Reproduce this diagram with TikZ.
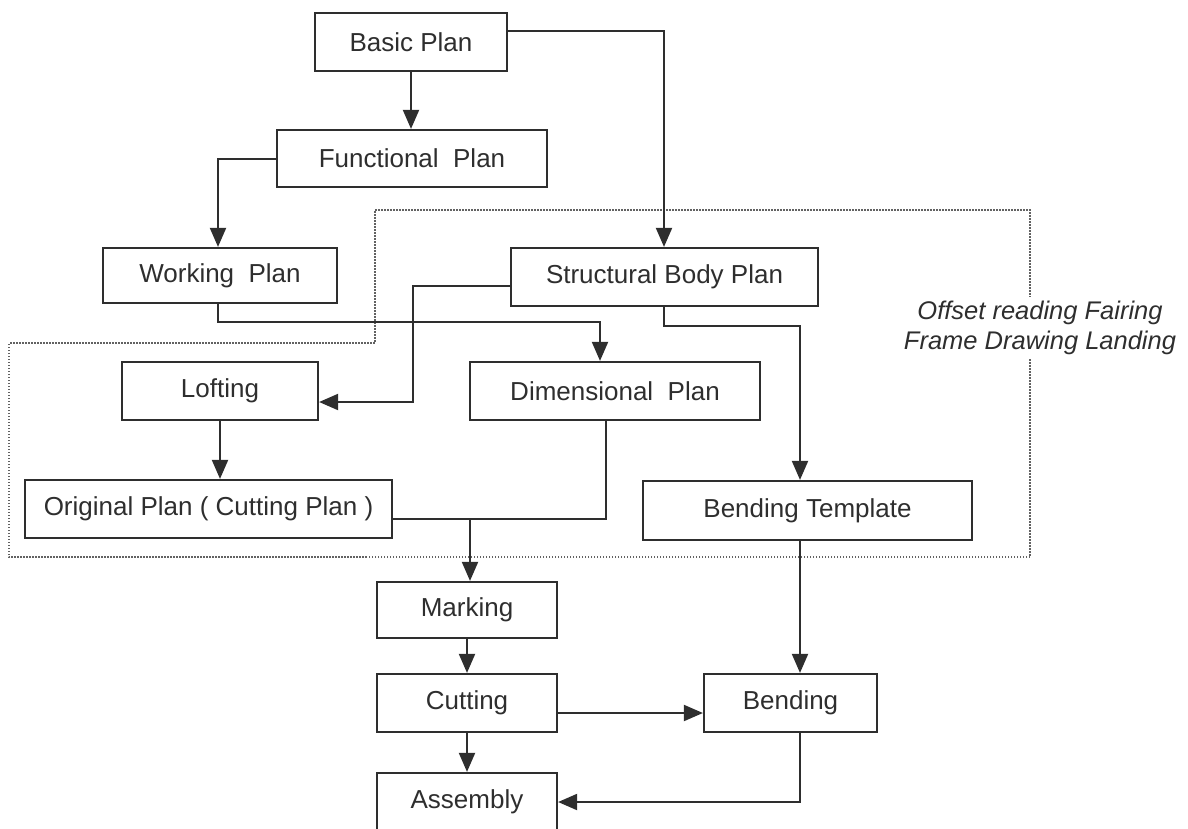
\documentclass[tikz,border=0pt]{standalone}
\usepackage{fontspec}
\setmainfont{Liberation Sans}
\usetikzlibrary{arrows.meta}
\definecolor{ink}{HTML}{2E2E2E}
\begin{document}
\begin{tikzpicture}[x=1pt,y=-1pt,
  box/.style={draw=ink, line width=2.2pt, rectangle, inner sep=0pt, text=ink,
    font=\fontsize{26}{31}\selectfont},
  conn/.style={draw=ink, line width=2pt},
  arr/.style={conn, -{Triangle[length=19pt,width=16pt]}},
  region/.style={draw=ink!75, line width=2pt, dash pattern=on 1.5pt off 1.5pt}]
\useasboundingbox (0,0) rectangle (1188,828);
% dotted region
\draw[region] (375,210) -- (1030,210) -- (1030,557) -- (9,557) -- (9,343) -- (375,343) -- cycle;
\node[fill=white, text=ink, align=center, font=\itshape\fontsize{25.5}{30}\selectfont, inner sep=4pt]
  (note) at (1040,328) {Offset reading Fairing\\Frame Drawing Landing};
% boxes
\node[box, minimum width=192pt, minimum height=58pt] (basic) at (411,42) {Basic Plan};
\node[box, minimum width=270pt, minimum height=57pt] (func) at (412,158.5) {Functional\ \ Plan};
\node[box, minimum width=234pt, minimum height=55pt] (work) at (220,275.5) {Working\ \ Plan};
\node[box, minimum width=307pt, minimum height=58pt] (struct) at (664.5,277) {Structural Body Plan};
\node[box, minimum width=196pt, minimum height=58pt] (loft) at (220,391) {Lofting};
\node[box, minimum width=290pt, minimum height=58pt] (dim) at (615,391) {Dimensional\ \ Plan};
\node[box, minimum width=367pt, minimum height=58pt] (orig) at (208.5,509) {Original Plan ( Cutting Plan )};
\node[box, minimum width=329pt, minimum height=59pt] (bt) at (807.5,510.5) {Bending Template};
\node[box, minimum width=180pt, minimum height=56pt] (mark) at (467,610) {Marking};
\node[box, minimum width=180pt, minimum height=58pt] (cut) at (467,703) {Cutting};
\node[box, minimum width=173pt, minimum height=58pt] (bend) at (790.5,703) {Bending};
\node[box, minimum width=180pt, minimum height=58pt] (asm) at (467,802) {Assembly};
% connectors
\draw[arr] (basic.south) -- (basic.south|-func.north);
\coordinate (b1) at (664,31);
\draw[arr] (basic.east|-b1) -- (b1) -- (b1|-struct.north);
\coordinate (f1) at (218,158.5);
\draw[arr] (func.west) -- (f1) -- (f1|-work.north);
\coordinate (w1) at (218,322);
\coordinate (w2) at (600,322);
\draw[arr] (w1|-work.south) -- (w1) -- (w2) -- (w2|-dim.north);
\coordinate (s1) at (413,286);
\coordinate (s2) at (413,402);
\draw[arr] (struct.west|-s1) -- (s1) -- (s2) -- (loft.east|-s2);
\draw[arr] (loft.south) -- (loft.south|-orig.north);
\coordinate (d1) at (606,519);
\coordinate (j) at (470,519);
\draw[conn] (orig.east|-d1) -- (d1) -- (d1|-dim.south);
\draw[arr] (j) -- (j|-mark.north);
\coordinate (t1) at (664,326);
\coordinate (t2) at (800,326);
\draw[arr] (t1|-struct.south) -- (t1) -- (t2) -- (t2|-bt.north);
\draw[arr] (t2|-bt.south) -- (t2|-bend.north);
\draw[arr] (mark) -- (cut);
\coordinate (c1) at (0,713);
\draw[arr] (cut.east|-c1) -- (bend.west|-c1);
\draw[arr] (cut) -- (asm);
\coordinate (e1) at (800,802);
\draw[arr] (e1|-bend.south) -- (e1) -- (asm.east);
\end{tikzpicture}
\end{document}
